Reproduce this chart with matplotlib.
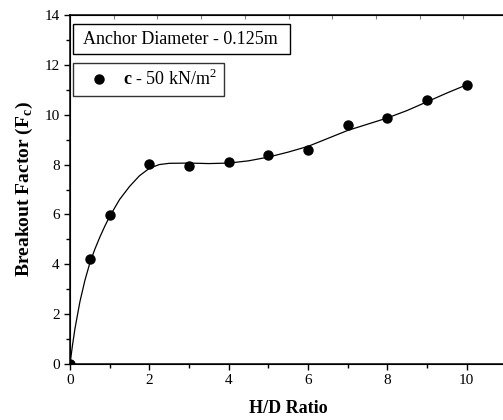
import matplotlib.pyplot as plt
from matplotlib.patches import Rectangle
import numpy as np

# measured points
hd_ratio = [0, 0.5, 1, 2, 3, 4, 5, 6, 7, 8, 9, 10]
breakout = [0, 4.2, 5.96, 8.02, 7.95, 8.09, 8.37, 8.58, 9.57, 9.86, 10.6, 11.2]

# fitted curve
fit_x = [0, 0.0625, 0.125, 0.25, 0.375, 0.5, 0.625, 0.75, 0.875, 1, 1.25, 1.5, 1.75, 2,
         2.25, 2.5, 3, 3.5, 4, 4.5, 5, 5.5, 6, 6.5, 7, 7.5, 8, 8.5, 9, 9.5, 10]
fit_y = [0, 0.75, 1.42, 2.5, 3.35, 4.05, 4.6, 5.08, 5.52, 5.92, 6.6, 7.12, 7.55, 7.85,
         8.0, 8.05, 8.06, 8.04, 8.06, 8.15, 8.3, 8.5, 8.73, 9.05, 9.37, 9.62, 9.87,
         10.17, 10.52, 10.87, 11.2]

plt.rcParams['font.family'] = 'Liberation Serif'
plt.rcParams['mathtext.fontset'] = 'custom'
plt.rcParams['mathtext.rm'] = 'Liberation Serif'
plt.rcParams['mathtext.bf'] = 'Liberation Serif:bold'

fig = plt.figure(figsize=(5.03, 4.2), dpi=100)
ax = fig.add_axes([70/503, 56/420, 436.4/503, 349/420])

ax.plot(fit_x, fit_y, color='black', lw=0.9)
ax.plot(hd_ratio, breakout, 'o', color='black', ms=6.5, ls='none',
        label=r'$\mathbf{c}$ - 50 kN/m$^2$')

ax.set_xlim(0, 11)
ax.set_ylim(0, 14)
ax.set_xticks(np.arange(0, 11, 2))
ax.set_xticks(np.arange(1, 11, 2), minor=True)
ax.set_yticks(np.arange(0, 15, 2))
ax.set_yticks(np.arange(1, 14, 2), minor=True)
ax.tick_params(which='major', direction='out', length=4, width=1, labelsize=11)
ax.tick_params(which='minor', direction='out', length=3, width=1)
ax.spines['right'].set_visible(False)
for s in ['left', 'bottom', 'top']:
    ax.spines[s].set_linewidth(1.1)

# top axis ticks (own scale)
top = ax.twiny()
top.set_xlim(0, 436.4/43.7)
top.set_xticks(np.arange(1, 10))
top.tick_params(axis='x', direction='in', length=3, color='gray', labeltop=False)
top.spines['right'].set_visible(False)

ax.set_xlabel('H/D Ratio', fontsize=13, fontweight='bold', labelpad=9)
ax.set_ylabel(r'Breakout Factor (F$_\mathbf{c}$)', fontsize=14, fontweight='bold', labelpad=7)

# "Anchor Diameter" box
ax.add_patch(Rectangle((0.0069, 0.888), 0.497, 0.086, transform=ax.transAxes,
                       fc='white', ec='black', lw=1, zorder=4))
ax.text(0.0298, 0.931, 'Anchor Diameter - 0.125m', fontsize=13, va='center', ha='left',
        transform=ax.transAxes, zorder=5)

leg = ax.legend(loc='upper left', bbox_to_anchor=(0.007, 0.8625), frameon=True,
                fancybox=False, edgecolor='black', fontsize=13, handletextpad=0.22,
                borderpad=0.35, handlelength=2.2, borderaxespad=0)
leg.get_frame().set_linewidth(1)

fig.savefig('out.png', dpi=100)
